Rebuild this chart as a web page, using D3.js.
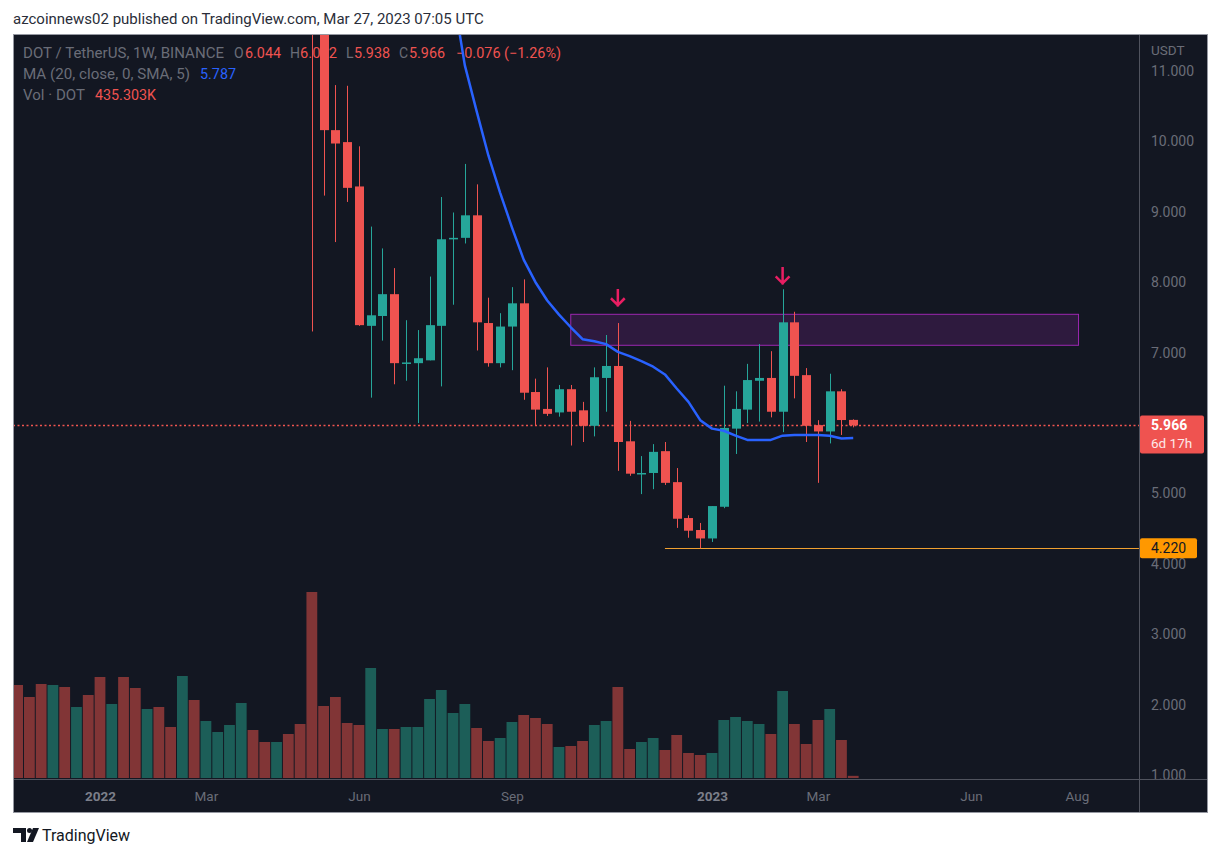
<!DOCTYPE html>
<html>
<head>
<meta charset="utf-8">
<script src="https://cdnjs.cloudflare.com/ajax/libs/d3/7.8.5/d3.min.js"></script>
<style>
body { margin: 0; background: #fff; }
svg text { font-family: Roboto, "Noto Sans", sans-serif; }
</style>
</head>
<body>
<svg id="chart" width="1221" height="857"></svg>
<script>

// weekly candles (DOT/USDT, Binance), first one = week of May 9 2022
var candleStart = Date.UTC(2022, 4, 9);
var opens  = [13.60, 11.95, 10.16, 9.99, 9.36, 7.38, 7.52, 7.83, 6.85, 6.85, 6.89, 7.38, 8.61, 8.63, 8.95, 7.42,
              6.85, 7.37, 7.70, 6.44, 6.20, 6.15, 6.48, 6.18, 5.96, 6.64, 6.81, 5.74, 5.28, 5.29, 5.60, 5.16,
              4.65, 4.48, 4.36, 4.81, 5.92, 6.19, 6.60, 6.64, 6.16, 7.43, 6.68, 5.97, 5.88, 6.45, 6.044];
var highs  = [14.30, 12.40, 10.80, 10.79, 9.93, 8.79, 8.48, 8.20, 7.46, 7.32, 8.08, 9.21, 8.99, 9.68, 9.39, 7.78,
              7.56, 7.93, 8.04, 6.63, 6.79, 6.54, 6.54, 6.30, 6.79, 7.25, 7.42, 6.03, 5.53, 5.70, 5.73, 5.36,
              4.69, 4.58, 4.82, 6.53, 6.45, 6.84, 7.12, 7.02, 7.90, 7.58, 6.78, 6.04, 6.70, 6.48, 6.052];
var lows   = [7.30, 9.23, 8.57, 9.14, 7.38, 6.36, 7.17, 6.55, 6.60, 6.00, 6.89, 6.52, 7.68, 8.55, 7.03, 6.80,
              6.79, 6.75, 6.33, 5.97, 6.10, 6.09, 5.68, 5.73, 5.81, 6.16, 5.32, 5.25, 4.99, 5.06, 5.12, 4.51,
              4.37, 4.22, 4.31, 4.79, 5.56, 6.00, 6.02, 6.08, 5.87, 6.35, 5.73, 5.15, 5.71, 5.83, 5.938];
var closes = [11.95, 10.16, 9.97, 9.34, 7.39, 7.53, 7.83, 6.85, 6.86, 6.92, 7.39, 8.61, 8.63, 8.95, 7.43, 6.85,
              7.37, 7.70, 6.43, 6.19, 6.13, 6.48, 6.16, 5.96, 6.65, 6.81, 5.73, 5.28, 5.29, 5.59, 5.15, 4.64,
              4.47, 4.36, 4.82, 5.93, 6.20, 6.61, 6.64, 6.16, 7.43, 6.67, 5.96, 5.88, 6.45, 6.042, 5.966];

// MA(20), starting at candle 12
var maFirst = 12;
var maValues = [12.10, 11.08, 10.43, 9.80, 9.27, 8.78, 8.32, 8.00, 7.74, 7.54, 7.36, 7.19, 7.16, 7.12, 7.01, 6.95,
                6.88, 6.80, 6.69, 6.49, 6.30, 6.04, 5.92, 5.89, 5.82, 5.76, 5.76, 5.76, 5.82, 5.83, 5.83, 5.83,
                5.82, 5.78, 5.787];

// weekly volume in millions of DOT, from week of Nov 15 2021
var volStart = Date.UTC(2021, 10, 15);
var volumes = [18.6, 16.2, 18.8, 18.6, 18.2, 14.2, 16.6, 20.2, 14.8, 20.2, 18.0, 13.8, 14.2, 10.2, 20.4, 15.6,
               11.4, 9.2, 10.6, 15.0, 9.6, 7.2, 7.2, 8.8, 10.8, 37.2, 14.4, 16.2, 11.0, 10.6, 22.0, 9.8,
               9.8, 10.2, 10.2, 15.8, 17.6, 13.0, 14.8, 10.0, 7.4, 8.0, 11.2, 12.6, 12.0, 10.8, 6.2, 6.4,
               7.4, 10.6, 11.4, 18.2, 5.8, 7.2, 8.0, 5.6, 8.6, 5.0, 4.6, 5.0, 11.6, 12.2, 11.4, 10.8,
               8.8, 17.4, 10.8, 6.8, 11.6, 13.8, 7.6, 0.435];
// up/down of the weeks whose candles sit above the visible range
var earlyDirs = ['d','d','d','u','d','u','d','d','u','d','d','u','d','d','u','d','u','u','u','u','d','d','u','d','d'];

// time axis labels
var tickDates  = ['2022-01-03', '2022-03-07', '2022-06-06', '2022-09-05', '2023-01-02', '2023-03-06', '2023-06-05', '2023-08-07'];
var tickLabels = ['2022', 'Mar', 'Jun', 'Sep', '2023', 'Mar', 'Jun', 'Aug'];
// 6.000 sits under the last price label, so it is not listed
var priceTicks = [1, 2, 3, 4, 5, 7, 8, 9, 10, 11];

// drawings on the chart
var zoneTop = 7.544, zoneBottom = 7.104, zoneFrom = '2022-10-10', zoneTo = '2023-08-08';
var arrowDates = ['2022-11-07', '2023-02-13'];
var arrowTips  = [7.66, 7.97];
var supportLevel = 4.22, supportFrom = '2022-12-05';

var GREEN = '#26a69a', RED = '#ef5350';
var GREEN_VOL = '#1c5e58', RED_VOL = '#813536';
var GREY = '#6a6d78';
var UI_FONT = '"Open Sans", sans-serif';

var svg = d3.select('#chart');
var frameL = 13, frameT = 34, frameR = 1207, frameB = 812;
var plotRight = 1139, plotBottom = 779;

var x = d3.scaleUtc()
  .domain([Date.UTC(2022, 0, 3), Date.UTC(2023, 0, 2)])
  .range([100, 712]);
var y = d3.scaleLinear().domain([1, 11]).range([775, 71]);
var yVol = d3.scaleLinear().domain([0, 40]).range([778, 578]);

var candles = d3.utcMonday.range(candleStart, Date.UTC(2023, 2, 28)).map(function(d, i) {
  return {date: d, o: opens[i], h: highs[i], l: lows[i], c: closes[i]};
});
var volData = d3.utcMonday.range(volStart, Date.UTC(2023, 2, 28)).map(function(d, i) {
  var k = i - earlyDirs.length;
  var up = k < 0 ? earlyDirs[i] == 'u' : candles[k].c >= candles[k].o;
  return {date: d, v: volumes[i], up: up};
});
var maData = maValues.map(function(v, i) {
  return {date: candles[maFirst + i].date, v: v};
});

// title above the chart
svg.append('text')
  .attr('x', 13).attr('y', 24)
  .attr('font-size', 15).attr('fill', '#2a2e39')
  .text('azcoinnews02 published on TradingView.com, Mar 27, 2023 07:05 UTC');

// chart background + frame
svg.append('rect')
  .attr('x', frameL + 0.5).attr('y', frameT + 0.5)
  .attr('width', frameR - frameL).attr('height', frameB - frameT)
  .attr('fill', '#131722').attr('stroke', '#9598a1').attr('stroke-width', 1);
svg.append('line')
  .attr('x1', plotRight + 0.5).attr('x2', plotRight + 0.5)
  .attr('y1', frameT + 1).attr('y2', frameB)
  .attr('stroke', '#50535e');
svg.append('line')
  .attr('x1', frameL + 1).attr('x2', frameR)
  .attr('y1', plotBottom + 0.5).attr('y2', plotBottom + 0.5)
  .attr('stroke', '#50535e');

svg.append('clipPath').attr('id', 'plotClip')
  .append('rect')
  .attr('x', frameL + 1).attr('y', frameT + 1)
  .attr('width', plotRight - frameL - 1).attr('height', plotBottom - frameT - 1);
svg.append('clipPath').attr('id', 'scaleClip')
  .append('rect')
  .attr('x', plotRight + 1).attr('y', frameT + 1)
  .attr('width', frameR - plotRight - 1).attr('height', plotBottom - frameT - 1);

// legend (widths follow the reference)
var legend = svg.append('g').attr('font-size', 14).attr('font-family', UI_FONT);
function legendText(xx, yy, txt, col, w) {
  var t = legend.append('text')
    .attr('x', xx).attr('y', yy)
    .attr('fill', col)
    .text(txt);
  if (w) t.attr('textLength', w).attr('lengthAdjust', 'spacingAndGlyphs');
}
legendText(23, 58, 'DOT / TetherUS, 1W, BINANCE', GREY, 201);
legendText(234, 58, 'O', GREY);
legendText(245, 58, d3.format('.3f')(opens[opens.length - 1]), RED, 36);
legendText(290, 58, 'H', GREY);
legendText(300, 58, d3.format('.3f')(highs[highs.length - 1]), RED, 37);
legendText(346, 58, 'L', GREY);
legendText(354, 58, d3.format('.3f')(lows[lows.length - 1]), RED, 36);
legendText(399, 58, 'C', GREY);
legendText(409, 58, d3.format('.3f')(closes[closes.length - 1]), RED, 36);
legendText(456, 58, '\u22120.076 (\u22121.26%)', RED, 105);
legendText(23, 79, 'MA (20, close, 0, SMA, 5)', GREY, 167);
legendText(200, 79, d3.format('.3f')(maValues[maValues.length - 1]), '#2962ff', 36);
legendText(23, 100, 'Vol \u00b7 DOT', GREY, 62);
legendText(95, 100, '435.303K', RED, 61);

var plot = svg.append('g').attr('clip-path', 'url(#plotClip)');

// Volume
plot.append('g')
  .selectAll('rect.vol')
  .data(volData)
  .enter()
  .append('rect')
  .classed('vol', true)
  .attr('x', function(d) {return x(d.date) - 5.4;})
  .attr('y', function(d) {return yVol(d.v);})
  .attr('width', 10.8)
  .attr('height', function(d) {return yVol(0) - yVol(d.v);})
  .attr('fill', function(d) {return d.up ? GREEN_VOL : RED_VOL;});

// resistance zone
plot.append('rect')
  .attr('x', x(new Date(zoneFrom)))
  .attr('y', y(zoneTop))
  .attr('width', x(new Date(zoneTo)) - x(new Date(zoneFrom)))
  .attr('height', y(zoneBottom) - y(zoneTop))
  .attr('fill', 'rgba(156,39,176,0.2)')
  .attr('stroke', '#9c27b0').attr('stroke-width', 1);

// last price dotted line
var lastY = Math.round(y(closes[closes.length - 1])) + 0.5;
plot.append('line')
  .attr('x1', frameL).attr('x2', plotRight)
  .attr('y1', lastY).attr('y2', lastY)
  .attr('stroke', '#f05550').attr('stroke-width', 1.4).attr('stroke-dasharray', '2,2.5');

// support ray
plot.append('line')
  .attr('x1', x(new Date(supportFrom))).attr('x2', plotRight)
  .attr('y1', Math.round(y(supportLevel)) + 0.5).attr('y2', Math.round(y(supportLevel)) + 0.5)
  .attr('stroke', '#f0a030').attr('stroke-width', 1);

// Candles
var candleG = plot.append('g')
  .selectAll('g.candle')
  .data(candles)
  .enter()
  .append('g')
  .classed('candle', true);
candleG.append('line')
  .attr('x1', function(d) {return Math.round(x(d.date)) + 0.5;})
  .attr('x2', function(d) {return Math.round(x(d.date)) + 0.5;})
  .attr('y1', function(d) {return y(d.h);})
  .attr('y2', function(d) {return y(d.l);})
  .attr('stroke', function(d) {return d.c >= d.o ? GREEN : RED;});
candleG.append('rect')
  .attr('x', function(d) {return Math.round(x(d.date)) - 4;})
  .attr('y', function(d) {return y(Math.max(d.o, d.c));})
  .attr('width', 9)
  .attr('height', function(d) {return Math.max(1.5, Math.abs(y(d.o) - y(d.c)));})
  .attr('fill', function(d) {return d.c >= d.o ? GREEN : RED;});

// MA line
plot.append('path')
  .datum(maData)
  .attr('fill', 'none')
  .attr('stroke', '#2962ff')
  .attr('stroke-width', 2.5)
  .attr('stroke-linejoin', 'round')
  .attr('d', d3.line()
    .x(function(d) {return x(d.date);})
    .y(function(d) {return y(d.v);}));

// arrows
plot.append('g')
  .selectAll('path.arrow')
  .data(arrowDates)
  .enter()
  .append('path')
  .classed('arrow', true)
  .attr('fill', 'none')
  .attr('stroke', '#e91e63')
  .attr('stroke-width', 2.5)
  .attr('stroke-linecap', 'square')
  .attr('d', function(d, i) {
    var ax = x(new Date(d)), ay = y(arrowTips[i]);
    return 'M' + ax + ',' + (ay - 16) + 'V' + (ay - 1) +
      'M' + (ax - 6) + ',' + (ay - 7) + 'L' + ax + ',' + (ay - 1) + 'L' + (ax + 6) + ',' + (ay - 7);
  });

// price scale
var scaleG = svg.append('g')
  .attr('clip-path', 'url(#scaleClip)')
  .append('g')
  .attr('transform', 'translate(' + plotRight + ',0)')
  .call(d3.axisRight(y).tickValues(priceTicks).tickFormat(d3.format('.3f')).tickSize(0).tickPadding(12));
scaleG.select('.domain').remove();
scaleG.selectAll('text')
  .attr('font-size', 14).attr('fill', GREY)
  .attr('font-family', UI_FONT);

svg.append('text')
  .attr('x', plotRight + 12).attr('y', 55)
  .attr('font-size', 13.5).attr('fill', GREY)
  .attr('font-family', UI_FONT)
  .text('USDT');

// last price label
var lastPriceY = y(closes[closes.length - 1]);
svg.append('rect')
  .attr('x', plotRight + 1).attr('y', lastPriceY - 10)
  .attr('width', 64).attr('height', 38).attr('rx', 2)
  .attr('fill', RED);
svg.append('text')
  .attr('x', plotRight + 12).attr('y', lastPriceY + 5)
  .attr('font-size', 14).attr('font-weight', 'bold').attr('fill', '#fff')
  .attr('font-family', UI_FONT)
  .text(d3.format('.3f')(closes[closes.length - 1]));
svg.append('text')
  .attr('x', plotRight + 12).attr('y', lastPriceY + 23)
  .attr('font-size', 13.5).attr('fill', '#fde8e8')
  .attr('font-family', UI_FONT)
  .text('6d 17h');

// support label
svg.append('rect')
  .attr('x', plotRight + 1).attr('y', y(supportLevel) - 10)
  .attr('width', 57).attr('height', 20).attr('rx', 2)
  .attr('fill', '#ff9800');
svg.append('text')
  .attr('x', plotRight + 12).attr('y', y(supportLevel) + 5)
  .attr('font-size', 14).attr('fill', '#131722')
  .attr('font-family', UI_FONT)
  .text(d3.format('.3f')(supportLevel));

// time scale
var timeG = svg.append('g')
  .attr('transform', 'translate(0,' + plotBottom + ')')
  .call(d3.axisBottom(x)
    .tickValues(tickDates.map(function(d) {return new Date(d);}))
    .tickFormat(function(d, i) {return tickLabels[i];})
    .tickSize(0).tickPadding(12));
timeG.select('.domain').remove();
timeG.selectAll('text')
  .attr('font-size', 13.5)
  .attr('font-family', UI_FONT)
  .attr('fill', function(d, i) {return /^\d+$/.test(tickLabels[i]) ? '#7c7f8a' : GREY;})
  .attr('font-weight', function(d, i) {return /^\d+$/.test(tickLabels[i]) ? 'bold' : 'normal';});

// TradingView logo
var logo = svg.append('g').attr('fill', '#131722');
logo.append('path').attr('d', 'M13,828H26V842H21V833H13Z');
logo.append('circle').attr('cx', 29.5).attr('cy', 830.5).attr('r', 2.5);
logo.append('path').attr('d', 'M33,828H39L33,842H27Z');
logo.append('text')
  .attr('x', 42).attr('y', 841)
  .attr('font-size', 16).attr('fill', '#131722')
  .text('TradingView');

</script>
</body>
</html>
